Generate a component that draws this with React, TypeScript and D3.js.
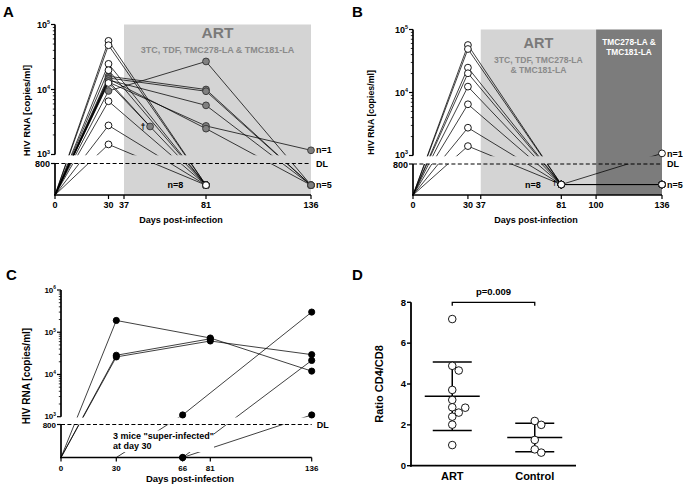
import React from "react";
import * as d3 from "d3";

// ---------- DATA ----------
const BDL = -1; // below detection limit (plotted beneath the DL line)
const DETECTION_LIMIT = 800;

// Panel A (ART: 3TC, TDF, TMC278-LA & TMC181-LA)
const A_TICKS = [0, 30, 37, 81, 136];
const A_SUPPRESSED_D30 = [56000, 48000, 24800, 19800, 12600, 6600, 2800, 1430];
const A_PERSIST_D30 = [9500, 16000, 15000, 14000, 13000, 14500];
const A_PERSIST_D81 = [27000, 10000, 9400, 5700, 2750, 2500];
const A_PERSIST_D136 = [BDL, BDL, BDL, BDL, 1160, BDL];
const A_DIED_D30 = 13500;
const A_DIED_DAY = 51;
const A_DIED_VALUE = 2700;

// Panel B (ART then TMC278-LA & TMC181-LA only)
const B_TICKS = [0, 30, 37, 81, 100, 136];
const B_D30 = [56700, 49000, 24800, 20200, 12400, 6500, 2760, 1410];
const B_D81 = [BDL, BDL, BDL, BDL, BDL, BDL, BDL, BDL];
const B_D136 = [BDL, BDL, 1080, BDL, BDL, null, BDL, null];

// Panel C (untreated; 3 mice super-infected at day 30)
const C_TICKS = [0, 30, 66, 81, 136];
const C_DAYS = [0, 30, 66, 81, 136];
const C_MOUSE_1 = [0, 190000, null, 73000, 12000];
const C_MOUSE_2 = [0, 26000, null, 62000, 29500];
const C_MOUSE_3 = [0, 28500, null, 70000, null];
const C_MOUSE_4 = [0, 0, 1100, null, 300000];
const C_MOUSE_5 = [0, 0, BDL, null, 21500];
const C_MOUSE_6 = [0, 0, BDL, null, 1100];

// Panel D (CD4/CD8 ratio)
const D_GROUPS = ["ART", "Control"];
const D_ART = [7.18, 4.89, 4.66, 3.71, 3.22, 2.86, 2.84, 2.6, 2.4, 2.01, 1.01];
const D_CONTROL = [2.19, 2.0, 1.26, 0.8, 0.64];
const D_TICKS = [0, 2, 4, 6, 8];
const D_PVALUE = "p=0.009";

// ---------- STYLE ----------
const FONT = "'Liberation Sans', Arial, Helvetica, sans-serif";
const LIGHT_BG = "#d4d4d4";
const DARK_BG = "#7c7c7c";
const GRAY_FILL = "#808080";

type Pt = { day: number; v: number; mark: string | null };

function mk(day: number, v: number, mark: string | null): Pt {
  return { day, v, mark };
}

function buildA(): Pt[][] {
  const mice: Pt[][] = [];
  A_PERSIST_D30.forEach((d30, i) => {
    mice.push([mk(0, 0, null), mk(30, d30, "gray"), mk(81, A_PERSIST_D81[i], "gray"), mk(136, A_PERSIST_D136[i], "gray")]);
  });
  mice.push([mk(0, 0, null), mk(30, A_DIED_D30, "gray"), mk(A_DIED_DAY, A_DIED_VALUE, "gray")]);
  A_SUPPRESSED_D30.forEach((d30) => {
    mice.push([mk(0, 0, null), mk(30, d30, "open"), mk(81, BDL, "open")]);
  });
  return mice;
}

function buildB(): Pt[][] {
  return B_D30.map((d30, i) => {
    const pts = [mk(0, 0, null), mk(30, d30, "open"), mk(81, B_D81[i], "open")];
    if (B_D136[i] !== null) pts.push(mk(136, B_D136[i] as number, "open"));
    return pts;
  });
}

function buildC(): Pt[][] {
  return [C_MOUSE_1, C_MOUSE_2, C_MOUSE_3, C_MOUSE_4, C_MOUSE_5, C_MOUSE_6].map((vals) => {
    const pts: Pt[] = [];
    vals.forEach((v, i) => {
      if (v === null) return;
      const d = C_DAYS[i];
      pts.push(mk(d, v as number, v === 0 ? null : "black"));
    });
    return pts;
  });
}

type Cfg = {
  id: string;
  xDomain: number[];
  xRange: number[];
  ticks: number[];
  yMax: number;
  yTop: number;
  y1000: number;
  y800: number;
  yBottom: number;
  undPos: number;
};

function sup(base: string, exp: number, x: number, y: number, fs: number, key: string) {
  return (
    <text key={key} x={x} y={y} textAnchor="end" fontSize={fs} fontWeight="bold" dy="0.35em">
      {base}
      <tspan fontSize={fs * 0.6} dy={-fs * 0.42}>{String(exp)}</tspan>
    </text>
  );
}

function LogPanel(props: {
  cfg: Cfg;
  mice: Pt[][];
  tickFont: number;
  children?: any;
  over?: any;
  labelRight: { text: string; v: number }[];
}) {
  const { cfg, mice, tickFont } = props;
  const x = d3.scaleLinear().domain(cfg.xDomain).range(cfg.xRange);
  const upper = d3.scaleLog().domain([1e3, cfg.yMax]).range([cfg.y1000, cfg.yTop]);
  const lower = d3.scaleLinear().domain([0, DETECTION_LIMIT]).range([cfg.yBottom, cfg.y800]);
  const y = (v: number) => (v === BDL ? lower(cfg.undPos) : v < 1000 ? lower(v) : upper(v));
  const line = d3
    .line<Pt>()
    .x((p) => x(p.day))
    .y((p) => y(p.v));
  const ax = cfg.xRange[0];
  const xEnd = x(136);
  const decades = d3.range(3, Math.round(Math.log10(cfg.yMax)) + 1);
  const minors: number[] = [];
  decades.slice(0, -1).forEach((k) => {
    for (let m = 2; m <= 9; m++) minors.push(m * Math.pow(10, k));
  });
  const pts = mice.flat().filter((p) => p.mark);
  const order = ["gray", "black", "open"];
  pts.sort((a, b) => order.indexOf(a.mark as string) - order.indexOf(b.mark as string));
  // keep the "10^3" and "800" labels apart when the break is narrow
  const gap = cfg.y800 - cfg.y1000;
  const nudge = gap < tickFont * 1.05 ? (tickFont * 1.05 - gap) / 2 : 0;

  return (
    <g>
      <defs>
        <clipPath id={cfg.id + "-up"}>
          <rect x={0} y={0} width={686} height={cfg.y1000 + 0.8} />
        </clipPath>
        <clipPath id={cfg.id + "-lo"}>
          <rect x={0} y={cfg.y800} width={686} height={489 - cfg.y800} />
        </clipPath>
      </defs>
      {props.children}
      {/* DL line */}
      <line x1={ax} x2={xEnd} y1={lower(DETECTION_LIMIT)} y2={lower(DETECTION_LIMIT)} stroke="#000" strokeWidth={1.1} strokeDasharray="4,2.4" />
      {/* lines, clipped to the two axis segments */}
      {["up", "lo"].map((seg) => (
        <g key={seg} clipPath={`url(#${cfg.id}-${seg})`}>
          {mice.map((m, i) => (
            <path key={i} d={line(m) as string} fill="none" stroke="#000" strokeWidth={0.75} />
          ))}
        </g>
      ))}
      {props.over}
      {/* axes */}
      <line x1={ax} x2={ax} y1={cfg.yTop} y2={cfg.y1000} stroke="#000" strokeWidth={1.7} />
      <line x1={ax} x2={ax} y1={cfg.y800} y2={cfg.yBottom + 0.8} stroke="#000" strokeWidth={1.7} />
      <line x1={ax - 0.8} x2={xEnd} y1={cfg.yBottom} y2={cfg.yBottom} stroke="#000" strokeWidth={1.7} />
      {cfg.ticks.map((t) => (
        <g key={t}>
          <line x1={x(t)} x2={x(t)} y1={cfg.yBottom} y2={cfg.yBottom + 4} stroke="#000" strokeWidth={1.2} />
          <text x={x(t)} y={cfg.yBottom + 13} textAnchor="middle" fontSize={tickFont} fontWeight="bold">
            {t}
          </text>
        </g>
      ))}
      {decades.map((k) => (
        <g key={k}>
          <line x1={ax - 4} x2={ax} y1={upper(Math.pow(10, k))} y2={upper(Math.pow(10, k))} stroke="#000" strokeWidth={1.2} />
          {sup("10", k, ax - 5, upper(Math.pow(10, k)) - (k === 3 ? nudge : 0), tickFont, "l" + k)}
        </g>
      ))}
      {minors.map((v) => (
        <line key={v} x1={ax - 2.2} x2={ax} y1={upper(v)} y2={upper(v)} stroke="#000" strokeWidth={0.8} />
      ))}
      <line x1={ax - 4} x2={ax} y1={cfg.y800} y2={cfg.y800} stroke="#000" strokeWidth={1.2} />
      <text x={ax - 5} y={cfg.y800 + nudge} dy="0.35em" textAnchor="end" fontSize={tickFont} fontWeight="bold">
        800
      </text>
      {/* markers */}
      {pts.map((p, i) => (
        <circle
          key={i}
          cx={x(p.day)}
          cy={y(p.v)}
          r={p.mark === "black" ? 3.1 : 3.4}
          fill={p.mark === "open" ? "#fff" : p.mark === "gray" ? GRAY_FILL : "#000"}
          stroke={p.mark === "gray" ? "#333" : "#000"}
          strokeWidth={0.9}
        />
      ))}
      {/* right labels */}
      {props.labelRight.map((l, i) => (
        <text key={i} x={xEnd + 5} y={l.v === DETECTION_LIMIT ? lower(DETECTION_LIMIT) : y(l.v)} dy="0.35em" fontSize={9} fontWeight="bold">
          {l.text}
        </text>
      ))}
    </g>
  );
}

function dodge(vals: number[], yScale: (v: number) => number, step: number, minDist: number) {
  const idx = vals.map((v, i) => i).sort((a, b) => vals[b] - vals[a]);
  const placed: { y: number; o: number }[] = [];
  const offs: number[] = new Array(vals.length).fill(0);
  const cands = [0, step, -step, 2 * step, -2 * step, 3 * step, -3 * step];
  idx.forEach((i) => {
    const yy = yScale(vals[i]);
    for (const c of cands) {
      if (placed.every((p) => Math.hypot(p.o - c, p.y - yy) >= minDist)) {
        offs[i] = c;
        placed.push({ y: yy, o: c });
        break;
      }
    }
  });
  return offs;
}

function PanelD() {
  const yD = d3.scaleLinear().domain([0, 8]).range([465.7, 302.3]);
  const xD = d3.scalePoint().domain(D_GROUPS).range([411, 576]).padding(0.5);
  const groups = [D_ART, D_CONTROL];
  return (
    <g>
      {groups.map((vals, gi) => {
        const cx = xD(D_GROUPS[gi]) as number;
        const mean = d3.mean(vals) as number;
        const sd = d3.deviation(vals) as number;
        const offs = dodge(vals, yD, 6.5, 7);
        return (
          <g key={gi}>
            <line x1={cx} x2={cx} y1={yD(mean + sd)} y2={yD(mean - sd)} stroke="#000" strokeWidth={1.5} />
            <line x1={cx - 27.5} x2={cx + 27.5} y1={yD(mean)} y2={yD(mean)} stroke="#000" strokeWidth={1.5} />
            <line x1={cx - 19.5} x2={cx + 19.5} y1={yD(mean + sd)} y2={yD(mean + sd)} stroke="#000" strokeWidth={1.5} />
            <line x1={cx - 19.5} x2={cx + 19.5} y1={yD(mean - sd)} y2={yD(mean - sd)} stroke="#000" strokeWidth={1.5} />
            {vals.map((v, i) => (
              <circle key={i} cx={cx + offs[i]} cy={yD(v)} r={3.8} fill="#fff" stroke="#000" strokeWidth={0.9} />
            ))}
            <text x={cx} y={480} textAnchor="middle" fontSize={11} fontWeight="bold">
              {D_GROUPS[gi]}
            </text>
          </g>
        );
      })}
      <line x1={411} x2={411} y1={yD(8)} y2={yD(0) + 1} stroke="#000" strokeWidth={1.8} />
      <line x1={410} x2={576} y1={yD(0)} y2={yD(0)} stroke="#000" strokeWidth={1.8} />
      {D_TICKS.map((t) => (
        <g key={t}>
          <line x1={407} x2={411} y1={yD(t)} y2={yD(t)} stroke="#000" strokeWidth={1.4} />
          <text x={406} y={yD(t)} dy="0.35em" textAnchor="end" fontSize={9.5} fontWeight="bold">
            {t}
          </text>
        </g>
      ))}
      <text transform={`translate(383,384) rotate(-90)`} textAnchor="middle" fontSize={11} fontWeight="bold">
        Ratio CD4/CD8
      </text>
      <path
        d={`M${xD("ART")},${yD(8) + 3.5}V${yD(8)}H${xD("Control")}V${yD(8) + 3.5}`}
        fill="none"
        stroke="#000"
        strokeWidth={1.3}
      />
      <text x={((xD("ART") as number) + (xD("Control") as number)) / 2} y={295} textAnchor="middle" fontSize={9.5} fontWeight="bold">
        {D_PVALUE}
      </text>
    </g>
  );
}

export default function App() {
  const cfgA: Cfg = {
    id: "pa",
    xDomain: [0, 30, 37, 81, 136],
    xRange: [55, 108.5, 124, 206, 311],
    ticks: A_TICKS,
    yMax: 1e5,
    yTop: 24.5,
    y1000: 154.5,
    y800: 163.5,
    yBottom: 195,
    undPos: 250,
  };
  const cfgB: Cfg = {
    id: "pb",
    xDomain: [0, 136],
    xRange: [413, 662],
    ticks: B_TICKS,
    yMax: 1e5,
    yTop: 29.5,
    y1000: 155.5,
    y800: 164,
    yBottom: 195,
    undPos: 270,
  };
  const cfgC: Cfg = {
    id: "pc",
    xDomain: [0, 136],
    xRange: [61, 311.7],
    ticks: C_TICKS,
    yMax: 1e6,
    yTop: 290,
    y1000: 416.7,
    y800: 424.5,
    yBottom: 457.5,
    undPos: 0,
  };
  const xA = d3.scaleLinear().domain(cfgA.xDomain).range(cfgA.xRange);
  const xB = d3.scaleLinear().domain(cfgB.xDomain).range(cfgB.xRange);
  const yAUp = d3.scaleLog().domain([1e3, cfgA.yMax]).range([cfgA.y1000, cfgA.yTop]);
  const yBUp = d3.scaleLog().domain([1e3, cfgB.yMax]).range([cfgB.y1000, cfgB.yTop]);
  const yBLo = d3.scaleLinear().domain([0, DETECTION_LIMIT]).range([cfgB.yBottom, cfgB.y800]);

  return (
    <svg width={686} height={489} style={{ position: "absolute", left: 0, top: 0, background: "#fff" }} fontFamily={FONT}>
      <rect x={0} y={0} width={686} height={489} fill="#fff" />
      {/* Panel labels */}
      <text x={3} y={16.7} fontSize={15} fontWeight="bold">A</text>
      <text x={352} y={16.7} fontSize={15} fontWeight="bold">B</text>
      <text x={6} y={280} fontSize={15} fontWeight="bold">C</text>
      <text x={352} y={280} fontSize={15} fontWeight="bold">D</text>

      {/* Panel A */}
      <LogPanel
        cfg={cfgA}
        mice={buildA()}
        tickFont={9}
        labelRight={[
          { text: "n=1", v: A_PERSIST_D136[4] },
          { text: "DL", v: DETECTION_LIMIT },
          { text: "n=5", v: BDL },
        ]}
        over={
          <g>
            <text x={xA(A_DIED_DAY) - 4.5} y={yAUp(A_DIED_VALUE)} dy="0.35em" textAnchor="end" fontSize={9} fontWeight="bold">†</text>
            <text x={175.5} y={188} textAnchor="middle" fontSize={9} fontWeight="bold">n=8</text>
          </g>
        }
      >
        <rect x={xA(37)} y={cfgA.yTop} width={xA(136) - xA(37)} height={cfgA.yBottom - cfgA.yTop} fill={LIGHT_BG} />
        <text x={(xA(37) + xA(136)) / 2} y={38.4} textAnchor="middle" fontSize={15.5} fill="#7a7a7a" fontWeight="bold">ART</text>
        <text x={(xA(37) + xA(136)) / 2} y={53.3} textAnchor="middle" fontSize={9} fill="#8a8a8a" fontWeight="bold">3TC, TDF, TMC278-LA &amp; TMC181-LA</text>
      </LogPanel>
      <text transform="translate(30,110.5) rotate(-90)" textAnchor="middle" fontSize={9.5} fontWeight="bold">HIV RNA [copies/ml]</text>
      <text x={181} y={223} textAnchor="middle" fontSize={9} fontWeight="bold">Days post-infection</text>

      {/* Panel B */}
      <LogPanel
        cfg={cfgB}
        mice={buildB()}
        tickFont={9}
        labelRight={[
          { text: "n=1", v: 1080 },
          { text: "DL", v: DETECTION_LIMIT },
          { text: "n=5", v: BDL },
        ]}
        over={
          <g>
            <text x={xB(81) - 4.5} y={yBLo(cfgB.undPos) - 2} dy="0.35em" textAnchor="end" fontSize={8} fontWeight="bold">†</text>
            <text x={533} y={187.5} textAnchor="middle" fontSize={9} fontWeight="bold">n=8</text>
          </g>
        }
      >
        <rect x={xB(37)} y={cfgB.yTop} width={xB(100) - xB(37)} height={cfgB.yBottom - cfgB.yTop} fill={LIGHT_BG} />
        <rect x={xB(100)} y={cfgB.yTop} width={xB(136) - xB(100)} height={cfgB.yBottom - cfgB.yTop} fill={DARK_BG} />
        <text x={(xB(37) + xB(100)) / 2} y={48.3} textAnchor="middle" fontSize={14.5} fill="#7a7a7a" fontWeight="bold">ART</text>
        <text x={(xB(37) + xB(100)) / 2} y={63} textAnchor="middle" fontSize={8.6} fill="#8a8a8a" fontWeight="bold">3TC, TDF, TMC278-LA</text>
        <text x={(xB(37) + xB(100)) / 2} y={72.7} textAnchor="middle" fontSize={8.6} fill="#8a8a8a" fontWeight="bold">&amp; TMC181-LA</text>
        <text x={(xB(100) + xB(136)) / 2} y={45.2} textAnchor="middle" fontSize={8.3} fill="#fff" fontWeight="bold">TMC278-LA &amp;</text>
        <text x={(xB(100) + xB(136)) / 2} y={54.6} textAnchor="middle" fontSize={8.3} fill="#fff" fontWeight="bold">TMC181-LA</text>
      </LogPanel>
      <text transform={`translate(373.5,${yBUp(1e4) + 20}) rotate(-90)`} textAnchor="middle" fontSize={8.8} fontWeight="bold">HIV RNA [copies/ml]</text>
      <text x={536} y={223.3} textAnchor="middle" fontSize={9} fontWeight="bold">Days post-infection</text>

      {/* Panel C */}
      <LogPanel
        cfg={cfgC}
        mice={buildC()}
        tickFont={8}
        labelRight={[{ text: "DL", v: DETECTION_LIMIT }]}
        over={
          <g>
            <rect x={112} y={430.5} width={102} height={21.5} fill="#fff" />
            <text x={113} y={439.3} fontSize={9} fontWeight="bold">3 mice "super-infected"</text>
            <text x={113} y={448.5} fontSize={9} fontWeight="bold">at day 30</text>
          </g>
        }
      />
      <text transform="translate(30,376) rotate(-90)" textAnchor="middle" fontSize={10} fontWeight="bold">HIV RNA [copies/ml]</text>
      <text x={190} y={481.7} textAnchor="middle" fontSize={9.5} fontWeight="bold">Days post-infection</text>

      {/* Panel D */}
      <PanelD />
    </svg>
  );
}
